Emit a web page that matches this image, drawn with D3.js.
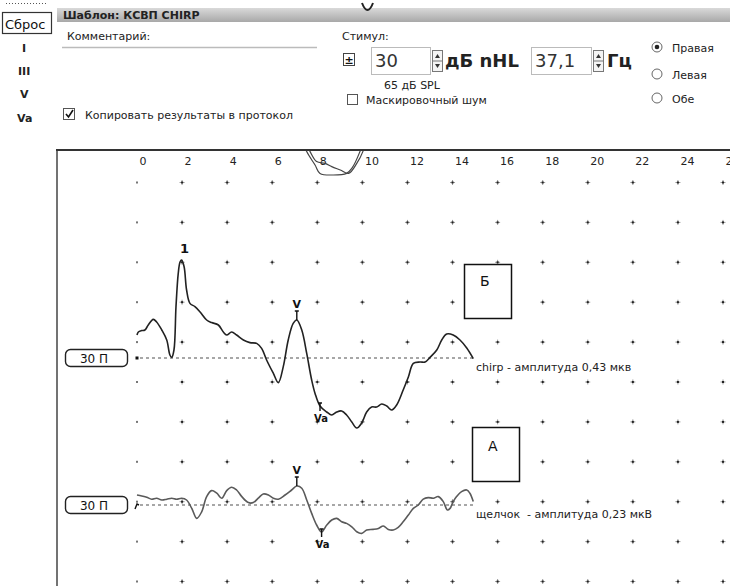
<!DOCTYPE html>
<html>
<head>
<meta charset="utf-8">
<script src="https://cdn.jsdelivr.net/npm/d3@7"></script>
<style>
  html, body { margin: 0; padding: 0; background: #fff; }
  svg { display: block; font-family: "DejaVu Sans", Verdana, sans-serif; }
</style>
</head>
<body>
<svg id="abr" width="730" height="586"></svg>
<script>
// ---- data -------------------------------------------------------------
// latency ticks along the top (ms)
const timeTicks = [0, 2, 4, 6, 8, 10, 12, 14, 16, 18, 20, 22, 24, 26];
// horizontal rows of the dot grid
const gridRows = [0, 1, 2, 3, 4, 5, 6, 7, 8, 9, 10];

// chirp response: latency (ms) / amplitude (µV)
const chirpTime = [0.00,0.06,0.21,0.35,0.50,0.72,0.87,1.10,1.32,1.46,
  1.54,1.64,1.73,1.83,1.91,1.98,2.09,2.20,2.35,2.57,
  2.80,3.09,3.31,3.61,3.83,3.98,4.20,4.42,4.72,5.01,
  5.31,5.53,5.75,6.05,6.27,6.49,6.71,6.93,7.09,7.31,
  7.53,7.75,7.90,8.12,8.42,8.64,8.86,9.08,9.30,9.53,
  9.75,9.97,10.19,10.41,10.63,10.86,11.08,11.30,11.52,11.81,
  12.04,12.26,12.56,12.78,13.00,13.30,13.52,13.74,14.03,14.33,
  14.63,14.92];
const chirpAmp = [0.115,0.13,0.137,0.14,0.165,0.193,0.18,0.14,0.09,0.015,
  0.003,0.04,0.257,0.423,0.48,0.49,0.456,0.34,0.273,0.257,
  0.23,0.19,0.177,0.165,0.13,0.115,0.13,0.115,0.09,0.077,
  0.073,0.048,-0.01,-0.077,-0.123,-0.043,0.09,0.173,0.19,0.14,
  0.023,-0.11,-0.177,-0.24,-0.27,-0.285,-0.27,-0.265,-0.285,-0.32,
  -0.35,-0.325,-0.27,-0.245,-0.245,-0.23,-0.24,-0.26,-0.235,-0.16,
  -0.095,-0.027,-0.02,-0.02,0.003,0.04,0.09,0.12,0.115,0.09,
  0.05,-0.003];

// click response: latency (ms) / amplitude (µV)
const clickTime = [0.00,0.21,0.43,0.65,0.87,1.10,1.32,1.54,1.76,1.98,
  2.20,2.43,2.65,2.87,3.09,3.31,3.54,3.76,3.98,4.20,
  4.42,4.65,4.94,5.16,5.38,5.60,5.83,6.05,6.27,6.57,
  6.86,7.09,7.31,7.53,7.75,7.97,8.19,8.42,8.64,8.86,
  9.08,9.30,9.53,9.75,9.97,10.19,10.48,10.71,10.93,11.15,
  11.37,11.59,11.81,12.04,12.26,12.48,12.70,12.92,13.15,13.37,
  13.59,13.77,13.89,14.03,14.18,14.40,14.63,14.77,14.92];
const clickAmp = [0.05,0.045,0.039,0.029,0.034,0.025,0.029,0.034,0.029,0.034,
  0.025,-0.017,-0.067,-0.034,0.042,0.072,0.059,0.034,0.072,0.089,
  0.075,0.042,0.012,0.012,0.034,0.055,0.05,0.034,0.029,0.05,
  0.075,0.095,0.084,0.025,-0.042,-0.1,-0.135,-0.1,-0.075,-0.067,
  -0.084,-0.092,-0.109,-0.134,-0.142,-0.125,-0.122,-0.117,-0.105,-0.122,
  -0.125,-0.112,-0.084,-0.05,-0.017,0,0.029,0.037,0.034,0.042,
  0.017,-0.025,-0.017,0.017,0.042,0.067,0.075,0.059,0.017];

// traces of the upper record, mostly scrolled out of view
const upperTimeA = [7.35,7.53,7.90,8.12,8.69,9.30,9.53,9.89,10.05];
const upperAmpA  = [0.05,-0.008,-0.075,-0.117,-0.125,-0.117,-0.092,-0.008,0.05];
const upperTimeB = [7.45,7.68,7.97,8.35,8.64,9.02,9.39,9.75,10.02,10.15];
const upperAmpB  = [0.05,-0.008,-0.058,-0.067,-0.083,-0.1,-0.117,-0.067,-0.008,0.05];

// marked peaks (latency of the labelled sample)
const chirpMarks = [{name: "1", t: 1.98, kind: "wave"},
                    {name: "V", t: 7.09, kind: "peak"},
                    {name: "Va", t: 8.12, kind: "trough"}];
const clickMarks = [{name: "V", t: 7.09, kind: "peak"},
                    {name: "Va", t: 8.19, kind: "trough"}];

const stimulusLabel = "30 П";

// ---- drawing -----------------------------------------------------------
const svg = d3.select("#abr");
const zip = (ts, vs) => ts.map((t, i) => ({t, v: vs[i]}));
const chirp = zip(chirpTime, chirpAmp);
const click = zip(clickTime, clickAmp);

const x = d3.scaleLinear().domain([0, 26]).range([137, 723]);
const row = d3.scaleLinear().domain([0, 10]).range([182.5, 581.5]);
const PX_PER_UV = 200;
const yChirp = d3.scaleLinear().domain([0, 1]).range([358, 358 - PX_PER_UV]);
const yClick = d3.scaleLinear().domain([0, 1]).range([505, 505 - PX_PER_UV]);
const yUpper = d3.scaleLinear().domain([0, 1]).range([150, 150 - PX_PER_UV]);

const defs = svg.append("defs");
const grad = defs.append("linearGradient").attr("id", "bar")
  .attr("x1", 0).attr("y1", 0).attr("x2", 0).attr("y2", 1);
grad.append("stop").attr("offset", "0%").attr("stop-color", "#d9d9d9");
grad.append("stop").attr("offset", "100%").attr("stop-color", "#a8a8a8");
defs.append("clipPath").attr("id", "plotClip")
  .append("rect").attr("x", 58).attr("y", 151).attr("width", 672).attr("height", 435);

// left column: reset button and peak names
svg.append("line").attr("x1", 6).attr("x2", 46).attr("y1", 3.5).attr("y2", 3.5)
  .attr("stroke", "#555").attr("stroke-dasharray", "1,2");
svg.append("rect").attr("x", 2.5).attr("y", 12.5).attr("width", 49).attr("height", 21)
  .attr("fill", "#fff").attr("stroke", "#333").attr("stroke-width", 1.2);
svg.append("text").attr("x", 5).attr("y", 29).attr("font-size", 13).attr("fill", "#111").text("Сброс");
[["I", 22, 52], ["III", 18, 75], ["V", 20, 98], ["Va", 17, 122]].forEach(([s, tx, ty]) => {
  svg.append("text").attr("x", tx).attr("y", ty).attr("font-size", 11)
    .attr("font-weight", "bold").attr("fill", "#222").text(s);
});

// header bar
svg.append("rect").attr("x", 57).attr("y", 8).attr("width", 673).attr("height", 14).attr("fill", "url(#bar)");
svg.append("text").attr("x", 63).attr("y", 19).attr("font-size", 11).attr("font-weight", "bold")
  .attr("fill", "#222").text("Шаблон: КСВП CHIRP");
svg.append("path").attr("d", "M362,3 Q367.5,17 373,3").attr("fill", "none")
  .attr("stroke", "#222").attr("stroke-width", 2);

// comment + protocol checkbox
svg.append("text").attr("x", 67).attr("y", 40).attr("font-size", 11).attr("fill", "#222").text("Комментарий:");
svg.append("line").attr("x1", 62).attr("x2", 317).attr("y1", 47.5).attr("y2", 47.5)
  .attr("stroke", "#bbb").attr("stroke-width", 1.5);
svg.append("rect").attr("x", 63.5).attr("y", 108.5).attr("width", 11).attr("height", 11)
  .attr("fill", "#fff").attr("stroke", "#555");
svg.append("path").attr("d", "M66,114 L68.5,117 L73,110").attr("fill", "none")
  .attr("stroke", "#111").attr("stroke-width", 1.6);
svg.append("text").attr("x", 85).attr("y", 119).attr("font-size", 11).attr("fill", "#222")
  .text("Копировать результаты в протокол");

// stimulus controls
svg.append("text").attr("x", 342).attr("y", 40).attr("font-size", 11).attr("fill", "#222").text("Стимул:");
svg.append("rect").attr("x", 343.5).attr("y", 53.5).attr("width", 11).attr("height", 12)
  .attr("fill", "#fff").attr("stroke", "#444");
svg.append("text").attr("x", 349).attr("y", 64).attr("text-anchor", "middle").attr("font-size", 11)
  .attr("font-weight", "bold").attr("fill", "#111").text("±");

function spinBox(x0, w, value) {
  svg.append("rect").attr("x", x0 + 0.5).attr("y", 47.5).attr("width", w).attr("height", 27)
    .attr("fill", "#fff").attr("stroke", "#bbb");
  svg.append("text").attr("x", x0 + 4).attr("y", 67).attr("font-size", 18).attr("fill", "#333").text(value);
  const sx = x0 + w + 2;
  svg.append("rect").attr("x", sx + 0.5).attr("y", 50.5).attr("width", 10).attr("height", 21)
    .attr("fill", "#f4f4f4").attr("stroke", "#777");
  svg.append("line").attr("x1", sx + 0.5).attr("x2", sx + 10.5).attr("y1", 61).attr("y2", 61).attr("stroke", "#777");
  svg.append("path").attr("d", `M${sx + 3},58 L${sx + 5.5},54 L${sx + 8},58 Z`).attr("fill", "#333");
  svg.append("path").attr("d", `M${sx + 3},64 L${sx + 5.5},68 L${sx + 8},64 Z`).attr("fill", "#333");
}
spinBox(371, 59, "30");
svg.append("text").attr("x", 445).attr("y", 67).attr("font-size", 18).attr("font-weight", "bold")
  .attr("fill", "#222").text("дБ nHL");
spinBox(531, 60, "37,1");
svg.append("text").attr("x", 607).attr("y", 67).attr("font-size", 18).attr("font-weight", "bold")
  .attr("fill", "#222").text("Гц");
svg.append("text").attr("x", 384).attr("y", 89).attr("font-size", 11).attr("fill", "#222").text("65 дБ SPL");
svg.append("rect").attr("x", 347.5).attr("y", 94.5).attr("width", 10).attr("height", 10)
  .attr("fill", "#fff").attr("stroke", "#555");
svg.append("text").attr("x", 366).attr("y", 104).attr("font-size", 11).attr("fill", "#222").text("Маскировочный шум");

// ear selection
[["Правая", 47, true], ["Левая", 74, false], ["Обе", 98, false]].forEach(([s, cy, on]) => {
  svg.append("circle").attr("cx", 657).attr("cy", cy).attr("r", 5)
    .attr("fill", "#fff").attr("stroke", "#666");
  if (on) svg.append("circle").attr("cx", 657).attr("cy", cy).attr("r", 2.3).attr("fill", "#222");
  svg.append("text").attr("x", 672).attr("y", cy + 5).attr("font-size", 11).attr("fill", "#222").text(s);
});

// ---- plot area ---------------------------------------------------------
svg.append("line").attr("x1", 57).attr("x2", 57).attr("y1", 150).attr("y2", 586)
  .attr("stroke", "#444").attr("stroke-width", 1.5);
svg.append("line").attr("x1", 56).attr("x2", 730).attr("y1", 150).attr("y2", 150)
  .attr("stroke", "#333").attr("stroke-width", 2);

// latency axis labels
const axis = d3.axisTop(x).tickValues(timeTicks).tickSize(0).tickPadding(0).tickFormat(d3.format("d"));
const ax = svg.append("g").attr("transform", "translate(2,165)").call(axis);
ax.select(".domain").remove();
ax.selectAll("text").attr("text-anchor", "start").attr("font-size", 11)
  .attr("font-family", "'DejaVu Sans', Verdana, sans-serif").attr("fill", "#222");

// dot grid
const plot = svg.append("g").attr("clip-path", "url(#plotClip)");
const grid = plot.append("g");
timeTicks.forEach(t => {
  gridRows.forEach(r => {
    const gx = x(t), gy = row(r);
    if (t === 0) {
      grid.append("rect").attr("x", gx - 1).attr("y", gy - 1).attr("width", 2).attr("height", 2).attr("fill", "#777");
    } else {
      grid.append("path").attr("d", `M${gx - 2.5},${gy}H${gx + 2.5}M${gx},${gy - 2.5}V${gy + 2.5}`)
        .attr("stroke", "#999").attr("stroke-width", 1);
      grid.append("rect").attr("x", gx - 1).attr("y", gy - 1).attr("width", 2).attr("height", 2).attr("fill", "#222");
    }
  });
});

// upper record (scrolled off the top)
const upperLine = d3.line().x(d => x(d.t)).y(d => yUpper(d.v)).curve(d3.curveCatmullRom);
[zip(upperTimeA, upperAmpA), zip(upperTimeB, upperAmpB)].forEach(tr => {
  plot.append("path").attr("d", upperLine(tr)).attr("fill", "none")
    .attr("stroke", "#444").attr("stroke-width", 1.2);
});

function drawTrace(data, y, color, marks, caption) {
  const base = y(0);
  // baseline
  plot.append("line").attr("x1", x(0) + 3).attr("x2", x(d3.max(data, d => d.t)))
    .attr("y1", base).attr("y2", base)
    .attr("stroke", "#8a8a8a").attr("stroke-width", 1.4).attr("stroke-dasharray", "3,3");
  // stimulus box
  svg.append("rect").attr("x", 65.5).attr("y", base - 8.5).attr("width", 62).attr("height", 17).attr("rx", 5)
    .attr("fill", "#fff").attr("stroke", "#222").attr("stroke-width", 1.4);
  svg.append("text").attr("x", 94).attr("y", base + 4.5).attr("text-anchor", "middle")
    .attr("font-size", 12).attr("fill", "#111").text(stimulusLabel);
  // waveform
  const line = d3.line().x(d => x(d.t)).y(d => y(d.v)).curve(d3.curveCatmullRom);
  plot.append("path").attr("d", line(data)).attr("fill", "none")
    .attr("stroke", color).attr("stroke-width", 1.6).attr("stroke-linejoin", "round");
  // peak markers
  const vals = {};
  marks.forEach(m => {
    const d = data.find(p => p.t === m.t);
    vals[m.name] = d.v;
    const px = x(d.t), py = y(d.v);
    if (m.kind === "wave") {
      plot.append("text").attr("x", px + 3).attr("y", py - 7).attr("text-anchor", "middle")
        .attr("font-size", 13).attr("font-weight", "bold").attr("fill", "#111").text(m.name);
    } else if (m.kind === "peak") {
      plot.append("path").attr("d", `M${px},${py}V${py - 9}M${px - 2},${py - 9}H${px + 2}`)
        .attr("stroke", "#111").attr("stroke-width", 1.4);
      plot.append("text").attr("x", px).attr("y", py - 12).attr("text-anchor", "middle")
        .attr("font-size", 11).attr("font-weight", "bold").attr("fill", "#111").text(m.name);
    } else {
      plot.append("path").attr("d", `M${px},${py - 3}V${py + 5}M${px - 2},${py - 3}H${px + 2}`)
        .attr("stroke", "#111").attr("stroke-width", 1.4);
      plot.append("text").attr("x", px + 1).attr("y", py + 16).attr("text-anchor", "middle")
        .attr("font-size", 10).attr("font-weight", "bold").attr("fill", "#111").text(m.name);
    }
  });
  // amplitude V–Va
  const amp = d3.format(".2f")(vals["V"] - vals["Va"]).replace(".", ",");
  plot.append("text").attr("x", 476).attr("y", base + 13).attr("font-size", 11)
    .attr("fill", "#222").attr("xml:space", "preserve").text(caption(amp));
  return base;
}

const chirpBase = drawTrace(chirp, yChirp, "#222", chirpMarks, a => `chirp - амплитуда ${a} мкв`);
const clickBase = drawTrace(click, yClick, "#5a5a5a", clickMarks, a => `щелчок  - амплитуда ${a} мкВ`);

// start markers
plot.append("rect").attr("x", x(0) - 1.5).attr("y", chirpBase - 1.5).attr("width", 3).attr("height", 3).attr("fill", "#111");
plot.append("path").attr("d", `M${x(0) - 2},${clickBase + 4} L${x(0)},${clickBase - 1} L${x(0) + 2},${clickBase}`)
  .attr("fill", "none").attr("stroke", "#111").attr("stroke-width", 1.4);

// panel tags
[["Б", 464, 264, 286], ["А", 472, 427, 451]].forEach(([s, bx, by, ty]) => {
  svg.append("rect").attr("x", bx + 0.5).attr("y", by + 0.5).attr("width", 47).attr("height", 54)
    .attr("fill", "#fff").attr("stroke", "#111").attr("stroke-width", 1.5);
  svg.append("text").attr("x", bx + 16).attr("y", ty).attr("font-size", 14).attr("fill", "#111").text(s);
});
</script>
</body>
</html>
